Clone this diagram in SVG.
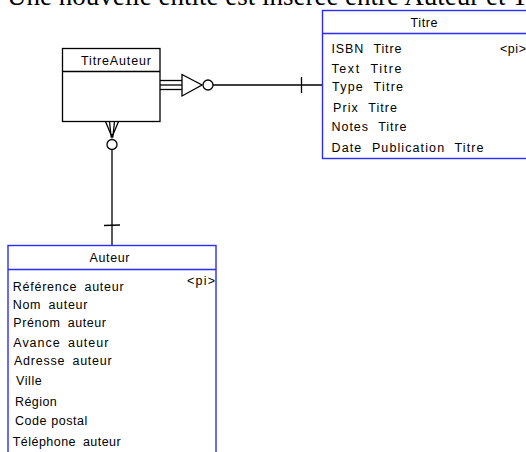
<svg xmlns="http://www.w3.org/2000/svg" width="526" height="452" viewBox="0 0 526 452">
<style>
.bg{fill:#ffffff}
.ent{fill:#ffffff;stroke:#2b2bff;stroke-width:1.4}
.sep{stroke:#2b2bff;stroke-width:1.4}
.ent2{fill:#ffffff;stroke:#000000;stroke-width:1.3}
.sep2{stroke:#000000;stroke-width:1.3}
.t{font-family:"Liberation Sans",Arial,sans-serif;font-size:12.5px;fill:#000000}
.tw{word-spacing:5px}
.aw{word-spacing:3px}
.h{text-anchor:middle}
.title{font-family:"Liberation Serif","Times New Roman",serif;font-size:27px;fill:#000000}
.ln{fill:none;stroke:#000000;stroke-width:1.3}
</style>
<rect class="bg" x="0" y="0" width="526" height="452"/>
<text class="title" x="7" y="5">Une nouvelle entité est insérée entre Auteur et Titre</text>

<g id="connectors">
  <!-- TitreAuteur to Titre -->
  <line class="ln" x1="160" y1="80.5" x2="182" y2="80.5"/>
  <line class="ln" x1="160" y1="85" x2="182" y2="85"/>
  <line class="ln" x1="160" y1="89.5" x2="182" y2="89.5"/>
  <polygon class="ln" points="182,74.5 182,96 202,85"/>
  <circle class="ln" cx="208" cy="85" r="5"/>
  <line class="ln" x1="213" y1="85" x2="322.5" y2="85"/>
  <line class="ln" x1="301.5" y1="77" x2="301.5" y2="93"/>
  <!-- TitreAuteur to Auteur -->
  <polyline class="ln" points="105.5,121.5 112,137 118.5,121.5"/>
  <line class="ln" x1="109.5" y1="121.5" x2="110.8" y2="134"/>
  <line class="ln" x1="114.5" y1="121.5" x2="113.2" y2="134"/>
  <rect x="110.5" y="134" width="3" height="3.5" fill="#000000"/>
  <circle class="ln" cx="112" cy="144.5" r="5"/>
  <line class="ln" x1="112" y1="149.5" x2="112" y2="245.5"/>
  <line class="ln" x1="104" y1="225.5" x2="120" y2="225"/>
</g>

<g id="titreauteur">
  <rect class="ent2" x="62.5" y="48.5" width="97.5" height="73"/>
  <line class="sep2" x1="62.5" y1="71.5" x2="160" y2="71.5"/>
  <text class="t" x="81" y="65" textLength="70" lengthAdjust="spacing">TitreAuteur</text>
</g>

<g id="titre">
  <rect class="ent" x="322.5" y="10.5" width="206" height="148"/>
  <line class="sep" x1="322.5" y1="33.5" x2="528.5" y2="33.5"/>
  <text class="t h" x="424" y="26.5" textLength="27" lengthAdjust="spacing">Titre</text>
  <text class="t tw" x="331.5" y="53" textLength="70" lengthAdjust="spacing">ISBN Titre</text>
  <text class="t" x="500" y="52.5" textLength="26" lengthAdjust="spacing">&lt;pi&gt;</text>
  <text class="t tw" x="331.5" y="72.5" textLength="70" lengthAdjust="spacing">Text Titre</text>
  <text class="t tw" x="332" y="90.5" textLength="71" lengthAdjust="spacing">Type Titre</text>
  <text class="t tw" x="333" y="111.5" textLength="64" lengthAdjust="spacing">Prix Titre</text>
  <text class="t tw" x="331.5" y="131" textLength="75" lengthAdjust="spacing">Notes Titre</text>
  <text class="t tw" x="331.5" y="151.5" textLength="152" lengthAdjust="spacing">Date Publication Titre</text>
</g>

<g id="auteur">
  <rect class="ent" x="8" y="245.5" width="208" height="220"/>
  <line class="sep" x1="8" y1="269.5" x2="216" y2="269.5"/>
  <text class="t h" x="109.5" y="261.5" textLength="40" lengthAdjust="spacing">Auteur</text>
  <text class="t aw" x="12.7" y="290.5" textLength="111" lengthAdjust="spacing">Référence auteur</text>
  <text class="t" x="187" y="285" textLength="28" lengthAdjust="spacing">&lt;pi&gt;</text>
  <text class="t aw" x="12.7" y="308.7" textLength="74.7" lengthAdjust="spacing">Nom auteur</text>
  <text class="t aw" x="13.3" y="327" textLength="92.7" lengthAdjust="spacing">Prénom auteur</text>
  <text class="t aw" x="13.3" y="346.5" textLength="95" lengthAdjust="spacing">Avance auteur</text>
  <text class="t aw" x="14" y="365" textLength="97.7" lengthAdjust="spacing">Adresse auteur</text>
  <text class="t" x="16" y="385" textLength="25.7" lengthAdjust="spacing">Ville</text>
  <text class="t" x="15" y="405.5" textLength="41.7" lengthAdjust="spacing">Région</text>
  <text class="t" x="15" y="425" textLength="72.3" lengthAdjust="spacing">Code postal</text>
  <text class="t aw" x="12.7" y="446" textLength="108" lengthAdjust="spacing">Téléphone auteur</text>
</g>
</svg>
